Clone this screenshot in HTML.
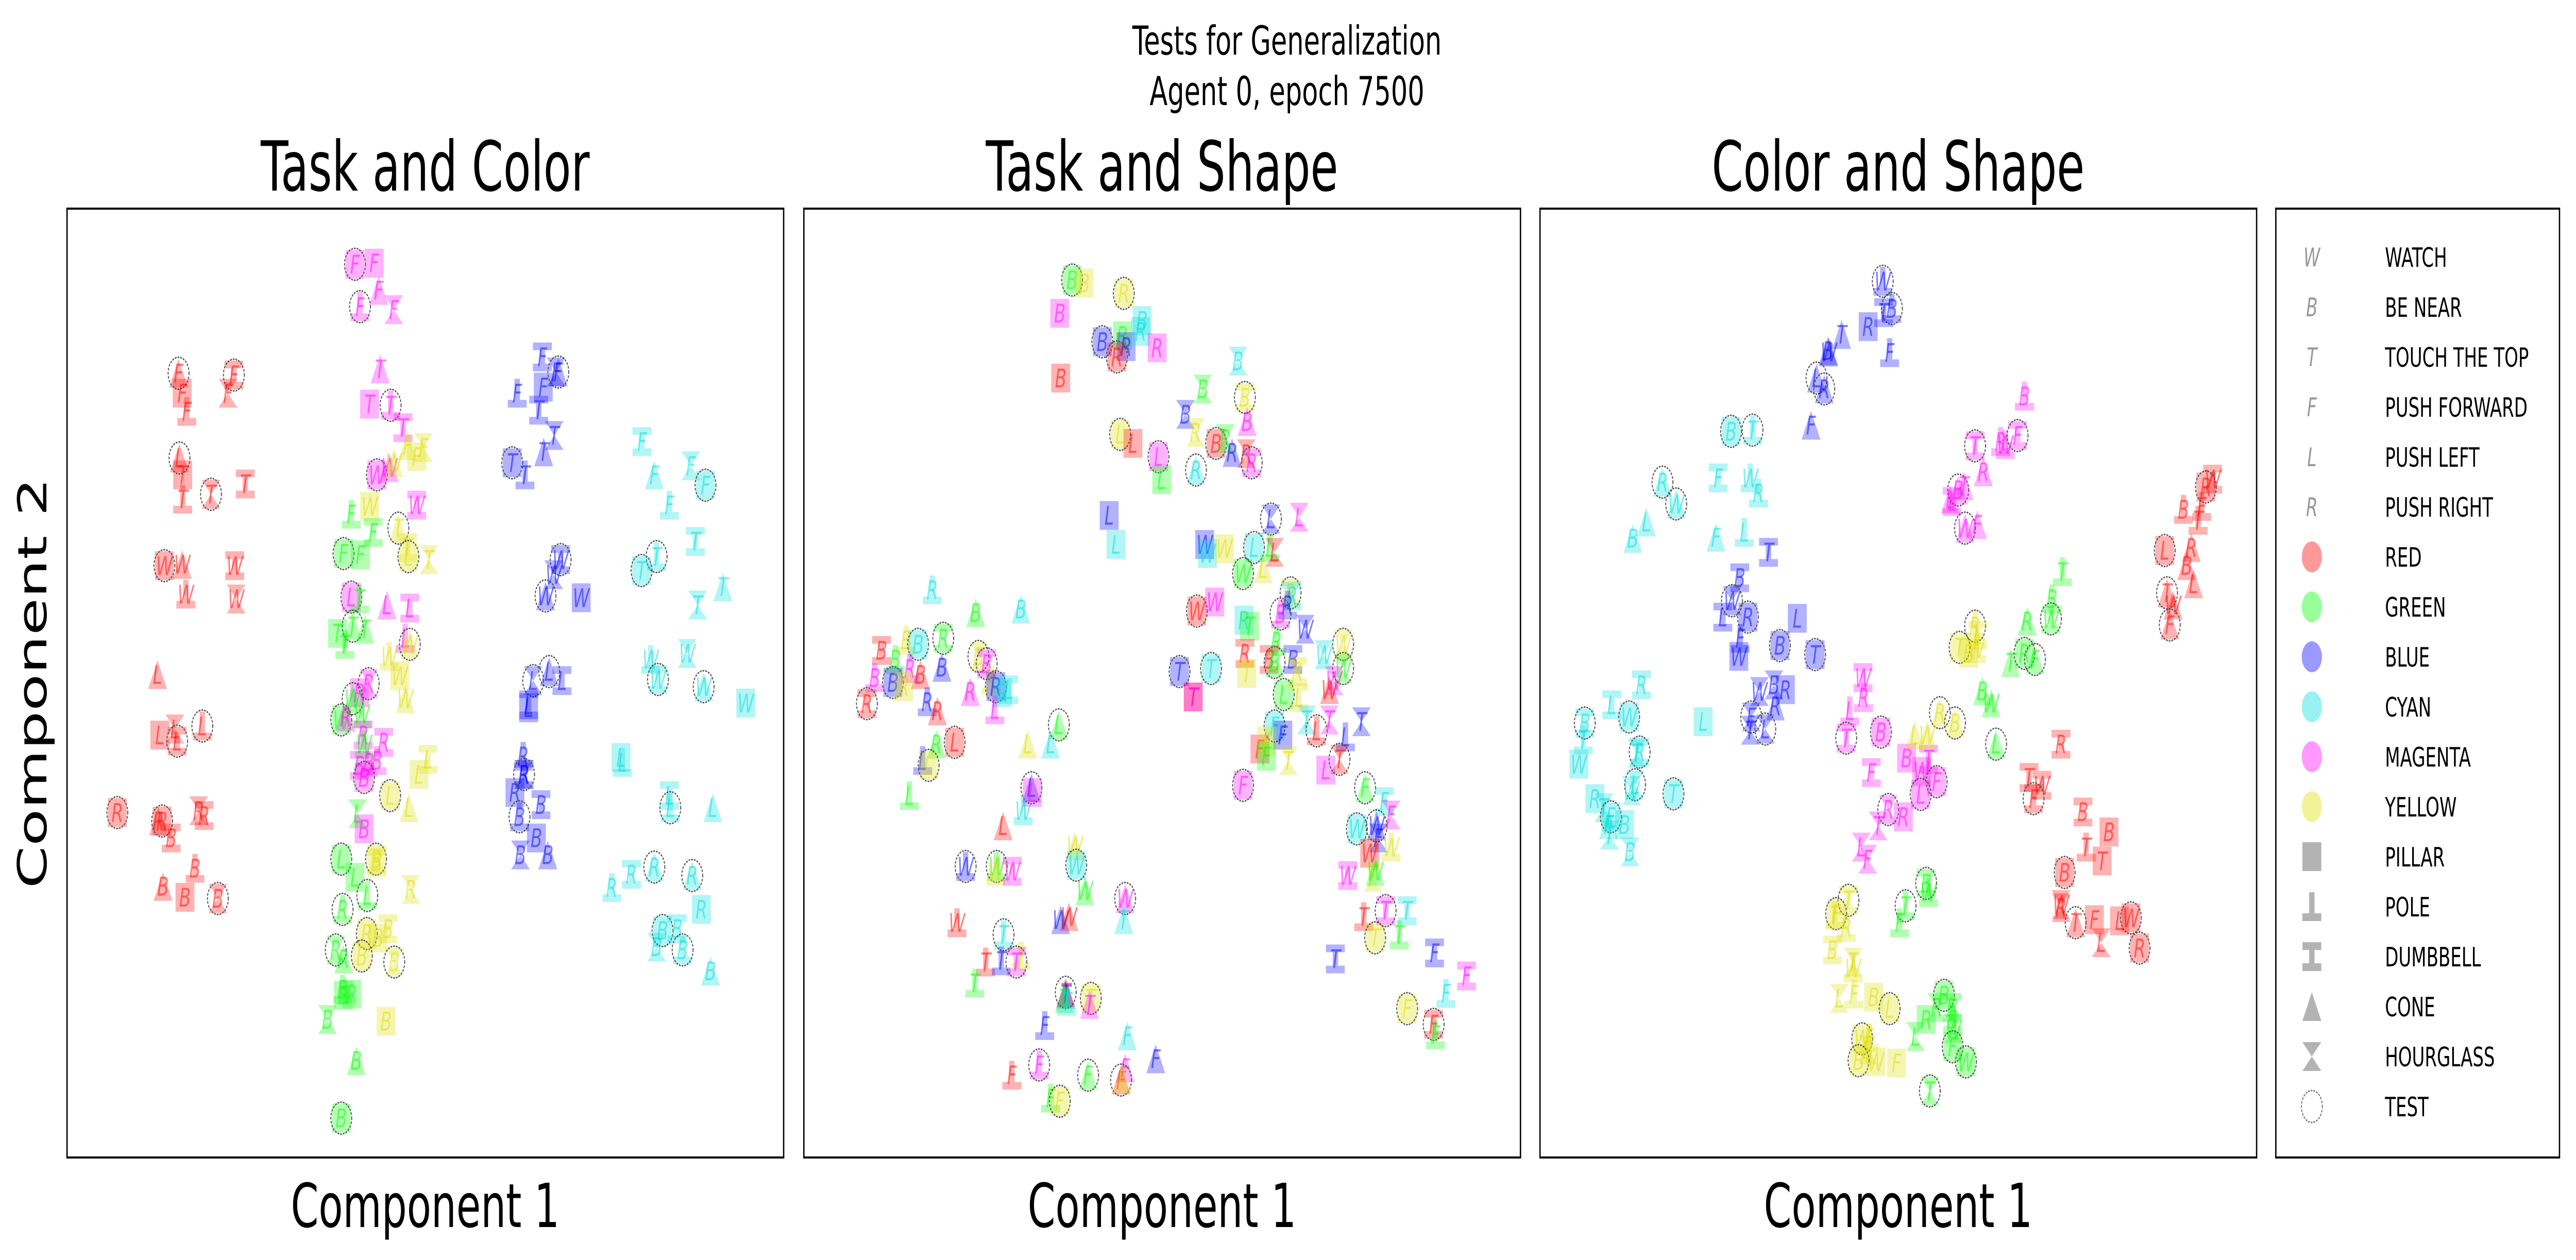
<!DOCTYPE html>
<html><head><meta charset="utf-8"><style>
html,body{margin:0;padding:0;background:#fff;width:100%;height:100%;overflow:hidden;}
svg{display:block;position:absolute;left:0;top:0;width:100vw;height:100vh;font-family:"DejaVu Sans","Liberation Sans",sans-serif;}
</style></head><body>
<svg id="fig" viewBox="0 0 7646 2446" preserveAspectRatio="none" xmlns="http://www.w3.org/2000/svg">
<rect width="7646" height="2446" fill="#fff"/>
<text x="3820" y="106" font-size="78" text-anchor="middle">Tests for Generalization</text>
<text x="3820" y="204" font-size="78" text-anchor="middle">Agent 0, epoch 7500</text>
<text x="1262" y="370" font-size="134" text-anchor="middle">Task and Color</text>
<text x="3449" y="370" font-size="134" text-anchor="middle">Task and Shape</text>
<text x="5634" y="370" font-size="134" text-anchor="middle">Color and Shape</text>
<text x="1262" y="2382" font-size="118" text-anchor="middle">Component 1</text>
<text x="3449" y="2382" font-size="118" text-anchor="middle">Component 1</text>
<text x="5634" y="2382" font-size="118" text-anchor="middle">Component 1</text>
<text transform="translate(138,1326) rotate(-90)" font-size="118" text-anchor="middle">Component 2</text>
<g id="panels"></g>
<g id="legend"></g>
</svg>
<script>
const taskColorPoints = [
[630,92,'m','s','F',1],[672,90,'m','s','F',0],[682,135,'m','n','F',0],[715,167,'m','h','F',0],[641,162,'m','p','F',1],
[685,265,'m','n','T',0],[662,323,'m','s','T',0],[708,325,'m','p','T',1],[735,362,'m','d','T',0],
[780,395,'y','h','F',0],[765,410,'y','s','F',0],[745,392,'y','n','F',0],[678,440,'m','s','W',1],[705,428,'m','n','W',0],[715,420,'y','n','W',0],
[765,490,'m','d','W',0],[662,492,'y','s','W',0],[622,505,'g','p','F',0],[670,535,'g','d','F',0],[725,528,'y','n','T',1],[745,560,'y','d','T',0],[792,580,'y','h','T',0],[747,575,'y','s','L',1],[605,570,'g','s','F',1],[642,572,'g','s','F',0],
[622,642,'m','s','L',1],[640,645,'g','p','T',0],[700,655,'m','n','L',0],[750,660,'m','d','L',0],[592,702,'g','s','T',0],[625,690,'g','n','T',1],[652,695,'g','n','T',0],[608,720,'g','p','T',0],[740,710,'m','p','L',0],[750,720,'y','n','W',1],[705,740,'y','p','W',0],[728,772,'y','s','W',0],[740,810,'y','n','W',0],
[660,785,'m','h','R',1],[640,800,'m','s','R',0],[625,810,'g','n','W',1],[600,845,'g','s','W',1],[610,840,'m','n','R',0],[645,835,'g','p','W',0],[648,870,'m','d','R',0],[650,885,'g','p','W',0],[693,882,'m','d','R',0],
[640,920,'m','d','B',0],[660,915,'m','n','B',0],[678,912,'m','p','B',0],[650,940,'m','s','B',1],[790,910,'y','d','L',0],[770,935,'y','s','L',0],[707,970,'y','s','L',1],[748,990,'y','n','L',0],[636,1000,'g','h','L',0],[650,1025,'m','s','B',0],
[600,1075,'g','s','L',1],[676,1075,'y','s','B',1],[678,1080,'y','d','B',0],[630,1105,'g','s','L',0],[657,1135,'g','p','L',1],[752,1125,'y','h','R',0],[603,1158,'g','p','R',1],[656,1198,'y','s','R',1],[702,1190,'y','d','B',0],[680,1205,'y','s','B',0],
[588,1225,'g','h','R',1],[605,1240,'g','n','R',0],[645,1235,'y','s','B',1],[716,1245,'y','h','B',1],[603,1290,'g','p','B',0],[605,1300,'g','s','B',0],[623,1298,'g','s','R',0],[570,1340,'g','h','B',0],[698,1343,'y','s','B',0],[633,1408,'g','n','B',0],[600,1503,'g','s','B',1],
[244,272,'r','n','F',1],[252,305,'r','s','F',0],[262,335,'r','p','F',0],[365,275,'r','d','F',1],[352,305,'r','h','F',0],
[246,412,'r','n','L',1],[253,440,'r','s','T',0],[253,480,'r','p','T',0],[315,472,'r','h','T',1],[390,455,'r','d','T',0],
[213,590,'r','s','W',1],[252,588,'r','n','W',0],[260,637,'r','p','W',0],[367,590,'r','d','W',0],[370,645,'r','h','W',0],
[198,770,'r','n','L',0],[203,870,'r','s','L',0],[236,860,'r','h','L',0],[241,880,'r','d','L',1],[296,855,'r','p','L',1],
[110,998,'r','s','R',1],[200,1012,'r','n','R',0],[208,1012,'r','s','R',1],[228,1040,'r','d','B',0],[288,995,'r','h','R',0],[300,1003,'r','d','R',0],[280,1090,'r','p','B',0],[210,1120,'r','n','B',0],[258,1138,'r','s','B',0],[330,1140,'r','h','B',1],
[1040,245,'b','d','F',0],[985,305,'b','p','F',0],[1042,295,'b','s','F',0],[1075,270,'b','n','F',1],[1070,270,'b','h','F',0],[1032,333,'b','d','T',0],[1066,375,'b','h','T',0],[1043,402,'b','n','T',0],[974,420,'b','s','T',1],[1002,440,'b','p','T',0],
[1080,580,'b','d','W',1],[1065,605,'b','h','W',0],[1047,640,'b','n','W',1],[1125,643,'b','s','W',0],
[1020,780,'b','h','L',1],[1055,765,'b','n','L',1],[1083,780,'b','d','L',0],[1010,825,'b','s','L',0],[1010,820,'b','d','L',0],
[998,905,'b','p','R',0],[980,965,'b','s','R',0],[1000,935,'b','h','R',0],[1000,935,'b','d','R',1],[1037,985,'b','d','B',0],[990,1005,'b','p','B',1],[1027,1040,'b','s','B',0],[992,1068,'b','h','B',0],[1052,1068,'b','n','B',0],
[1258,385,'c','d','F',0],[1285,440,'c','n','F',0],[1365,425,'c','h','F',0],[1397,457,'c','s','F',1],[1318,490,'c','p','F',0],[1375,550,'c','d','T',0],[1290,575,'c','p','T',1],[1257,598,'c','s','T',1],[1435,625,'c','n','T',0],[1380,655,'c','h','T',0],
[1277,745,'c','p','W',0],[1293,778,'c','d','W',1],[1357,735,'c','h','W',0],[1393,790,'c','n','W',1],[1485,817,'c','s','W',0],
[1212,907,'c','s','L',0],[1215,915,'c','p','L',0],[1318,970,'c','d','L',0],[1320,990,'c','p','L',1],[1413,990,'c','n','L',0],
[1192,1122,'c','p','R',0],[1235,1100,'c','d','R',0],[1285,1088,'c','n','R',1],[1368,1102,'c','n','R',1],[1388,1158,'c','s','R',0],
[1303,1193,'c','s','B',1],[1335,1190,'c','d','B',0],[1290,1220,'c','h','B',0],[1347,1225,'c','p','B',1],[1408,1260,'c','n','B',0]
];
const taskShapePoints = [
[587,118,'g','s','B',1],[613,123,'y','s','B',0],[700,140,'y','s','R',1],[560,173,'m','s','B',0],[653,220,'b','s','B',1],[697,210,'g','s','R',0],[705,228,'b','s','R',0],[685,245,'r','s','R',1],[740,185,'c','s','B',0],[737,203,'c','s','R',0],[773,230,'m','s','R',0],[562,280,'r','s','B',0],
[950,252,'c','h','B',0],[873,298,'g','h','B',0],[965,312,'y','d','B',1],[970,352,'m','n','B',0],[835,340,'b','h','B',0],[857,370,'y','h','R',0],[902,388,'r','s','B',1],[922,380,'g','h','R',0],[937,403,'b','n','R',0],[968,405,'r','h','R',0],[980,420,'m','d','R',1],[858,432,'c','n','R',1],
[692,373,'y','s','L',1],[720,388,'r','s','L',0],[776,410,'m','s','L',1],[783,448,'g','s','L',0],
[668,507,'b','s','L',0],[683,555,'c','s','L',0],[1022,513,'b','h','L',1],[1084,510,'m','h','L',0],[877,555,'b','s','W',0],[883,570,'c','s','W',0],[920,562,'y','s','W',0],[985,560,'c','s','L',1],[1020,560,'g','p','L',0],[1030,568,'r','h','L',0],[1005,595,'y','n','L',0],[961,603,'g','s','W',1],
[860,665,'r','s','W',1],[899,650,'m','s','W',0],[1065,635,'y','d','R',1],[1068,640,'c','d','R',0],[1058,655,'b','p','R',0],[1043,670,'m','p','B',1],[963,680,'c','s','R',0],[975,690,'g','s','T',0],[1097,695,'b','h','W',0],[1034,715,'g','p','R',0],[1070,745,'b','d','B',0],[1080,765,'y','d','R',0],[965,735,'r','d','R',0],[969,768,'y','s','T',0],[1018,745,'r','d','B',0],[1030,750,'g','n','B',1],[1138,737,'c','h','W',0],[1180,720,'y','h','W',1],[1180,760,'g','h','W',1],[1160,780,'m','h','W',0],[1150,795,'r','n','W',0],[822,765,'b','s','T',1],[891,760,'c','s','T',1],[852,807,'r','s','T',0],[852,807,'m','s','T',0],
[1050,803,'g','s','L',1],[1083,808,'y','d','L',0],[1100,845,'c','h','T',0],[1122,863,'r','p','L',1],[1150,845,'m','h','T',0],[1220,848,'b','h','T',0],[1185,873,'b','p','L',0],[1030,855,'c','s','F',1],[1048,870,'b','s','F',0],[998,893,'r','s','F',0],[1013,880,'y','s','F',0],[1012,905,'g','s','F',0],[1060,912,'y','h','T',0],[1142,928,'m','s','L',0],[1172,910,'r','h','T',1],[961,953,'m','s','F',1],
[1228,957,'g','n','F',1],[1270,980,'c','d','F',0],[1285,1002,'m','h','F',0],[1210,1025,'c','s','W',1],[1253,1020,'b','n','W',1],[1257,1040,'b','h','F',0],[1285,1055,'y','p','W',0],[1238,1065,'r','s','W',0],[1245,1105,'y','h','F',0],[1250,1095,'g','n','W',0],[1190,1102,'m','d','W',0],[1225,1170,'r','p','T',0],[1273,1160,'m','d','T',1],[1320,1160,'c','d','T',0],[1250,1205,'y','s','T',1],[1303,1200,'g','p','T',0],[1163,1240,'b','d','T',0],[1380,1230,'b','d','F',0],[1450,1268,'m','d','F',0],[1405,1297,'c','p','F',0],[1320,1322,'y','s','F',1],[1378,1348,'r','d','F',1],[1382,1365,'g','p','F',0],
[281,630,'c','p','R',0],[376,668,'g','n','B',0],[475,662,'c','n','B',0],[170,730,'r','d','B',0],[224,713,'y','p','B',0],[250,720,'c','s','B',1],[305,710,'g','d','R',1],[200,745,'g','p','B',0],[232,760,'m','p','R',0],[255,770,'r','n','B',0],[155,775,'m','p','B',0],[195,783,'b','s','B',1],[218,790,'y','s','R',0],[302,758,'b','n','B',0],[270,815,'b','p','R',0],[292,830,'r','n','R',0],[138,818,'r','d','R',1],[382,740,'y','h','B',1],[400,752,'m','d','B',1],[410,780,'y','p','R',0],[420,790,'b','s','R',1],[448,795,'c','d','L',0],[435,800,'c','s','R',0],[364,798,'m','n','R',0],[418,828,'m','p','L',0],
[558,853,'g','n','L',1],[490,885,'y','n','L',0],[540,885,'c','n','L',0],[290,885,'g','n','R',0],[330,882,'r','s','L',1],[260,912,'b','p','L',0],[273,920,'y','s','L',1],[231,970,'g','p','L',0],[498,957,'b','n','L',1],[500,965,'m','s','L',0],[480,995,'c','p','W',0],[436,1020,'r','n','L',0],
[354,1087,'b','p','W',1],[422,1087,'g','p','W',1],[420,1095,'y','p','W',0],[456,1095,'m','d','W',0],[593,1053,'y','n','W',0],[596,1085,'c','s','W',1],[615,1127,'g','n','W',0],[703,1140,'m','n','W',1],[700,1175,'c','n','T',0],[562,1175,'b','n','W',0],[580,1170,'r','n','W',0],[335,1180,'r','p','W',0],
[437,1200,'c','p','T',1],[475,1235,'y','p','T',0],[398,1245,'r','p','T',0],[432,1243,'b','p','T',0],[465,1245,'m','d','T',1],[374,1280,'g','p','T',0],[573,1295,'r','n','T',1],[573,1298,'b','n','T',0],[570,1305,'g','n','T',0],[575,1310,'c','p','T',0],[628,1305,'y','s','T',1],[625,1315,'m','n','T',0],
[527,1350,'b','p','F',0],[708,1367,'c','n','F',0],[770,1405,'b','n','F',0],[455,1432,'r','p','F',0],[515,1415,'m','p','F',1],[622,1432,'g','n','F',1],[703,1420,'m','n','F',0],[694,1440,'r','n','F',1],[697,1438,'y','n','F',0],[540,1470,'g','p','F',0],[560,1475,'y','s','F',1]
];
const colorShapePoints = [
[750,120,'b','p','W',1],[770,165,'b','p','B',1],[752,172,'b','d','T',0],[718,195,'b','s','R',0],[660,208,'b','n','T',0],[632,237,'b','n','W',0],[630,235,'b','n','B',0],[765,238,'b','p','F',0],[605,280,'b','n','L',1],[622,298,'b','n','R',1],[593,358,'b','n','F',0],
[500,568,'b','d','T',0],[437,610,'b','d','B',0],[420,648,'b','h','W',1],[400,675,'b','d','L',0],[455,675,'b','s','R',1],[438,710,'b','p','F',0],[435,740,'b','s','W',0],[563,677,'b','s','L',0],[525,722,'b','s','B',1],[602,737,'b','s','T',1],
[480,798,'b','h','W',0],[512,787,'b','h','B',0],[537,795,'b','s','R',0],[515,822,'b','n','R',0],[462,840,'b','h','F',1],[493,860,'b','h','L',1],[460,862,'b','h','T',0],
[418,368,'c','s','B',1],[465,366,'c','p','T',1],[268,452,'c','n','R',1],[298,488,'c','n','W',1],[390,445,'c','d','F',0],[460,445,'c','p','W',0],[478,470,'c','p','R',0],[233,518,'c','n','L',0],[203,545,'c','n','B',0],[385,543,'c','n','F',0],[447,535,'c','p','L',0],
[222,787,'c','d','R',0],[157,820,'c','d','L',0],[195,840,'c','s','W',1],[98,850,'c','d','B',1],[95,878,'c','p','T',0],[85,918,'c','s','W',0],[218,898,'c','d','R',1],[212,900,'c','h','T',0],[357,848,'c','s','L',0],[208,952,'c','h','L',1],[200,962,'c','h','W',0],[292,967,'c','s','T',1],[120,975,'c','s','R',0],[140,990,'c','h','T',0],[155,1005,'c','s','F',1],[150,1018,'c','n','F',0],[185,1018,'c','s','B',0],[152,1035,'c','h','T',0],[197,1063,'c','h','B',0],
[1060,310,'m','p','B',0],[952,392,'m','d','T',1],[1008,385,'m','p','R',0],[1018,390,'m','p','W',0],[1045,375,'m','d','F',1],[970,435,'m','n','R',0],[915,465,'m','n','B',1],[928,458,'m','n','T',0],[898,480,'m','n','L',0],[902,484,'m','d','L',0],[930,528,'m','n','W',1],[957,522,'m','n','F',0],
[707,775,'m','d','W',0],[708,808,'m','p','R',0],[678,830,'m','p','L',0],[670,875,'m','d','T',1],[746,865,'m','s','B',1],[802,908,'m','s','B',0],[850,910,'m','d','T',0],[835,930,'m','s','W',0],[868,947,'m','s','F',1],[833,968,'m','s','L',1],[725,932,'m','d','F',0],[762,993,'m','h','R',1],[795,1005,'m','s','R',0],[740,1020,'m','h','T',0],[703,1055,'m','h','L',0],[717,1075,'m','h','F',0],
[952,690,'y','p','R',1],[958,705,'y','d','L',0],[918,725,'y','s','T',1],[938,735,'y','s','B',0],[955,727,'y','p','W',0],[875,833,'y','n','R',1],[908,850,'y','n','B',1],[820,870,'y','n','L',0],[847,870,'y','n','W',0],
[675,1143,'y','d','T',1],[648,1165,'y','s','F',1],[645,1168,'y','p','T',0],[670,1188,'y','p','R',0],[640,1225,'y','d','B',0],[685,1245,'y','h','T',0],[685,1255,'y','p','W',0],[655,1305,'y','h','L',0],[687,1298,'y','p','F',0],[730,1303,'y','s','B',0],[765,1322,'y','s','L',1],[705,1372,'y','s','W',1],[720,1370,'y','p','F',0],[717,1390,'y','h','B',0],[697,1408,'y','s','B',1],[735,1410,'y','s','W',0],[780,1412,'y','s','F',0],
[1143,600,'g','p','T',0],[1120,645,'g','p','B',0],[1066,682,'g','n','R',0],[1118,678,'g','p','W',1],[1030,750,'g','n','T',0],[1060,735,'g','s','R',1],[1083,745,'g','n','F',1],[968,797,'g','n','B',0],[987,817,'g','n','W',0],[998,885,'g','n','L',1],
[845,1115,'g','d','B',1],[850,1130,'g','p','W',0],[800,1152,'g','p','T',1],[787,1180,'g','p','F',0],[845,1340,'g','s','R',0],[868,1320,'g','h','R',0],[884,1300,'g','s','B',1],[902,1320,'g','d','B',0],[903,1340,'g','p','B',0],[822,1368,'g','h','L',0],[905,1355,'g','h','W',0],[903,1385,'g','s','F',1],[932,1410,'g','s','W',1],[853,1458,'g','h','T',1],
[1472,447,'r','d','W',0],[1457,460,'r','s','R',1],[1448,492,'r','p','F',0],[1408,497,'r','p','B',0],[1440,515,'r','p','T',0],[1367,565,'r','s','L',1],[1425,560,'r','n','R',0],[1415,590,'r','n','B',0],[1430,620,'r','n','L',0],[1372,635,'r','n','T',1],[1385,655,'r','n','W',0],[1378,688,'r','n','F',1],
[1140,885,'r','d','R',0],[1070,940,'r','d','T',0],[1098,953,'r','d','W',0],[1080,975,'r','d','F',1],[1188,997,'r','d','B',0],[1245,1030,'r','s','B',0],[1195,1055,'r','p','T',0],[1230,1078,'r','s','T',0],[1148,1097,'r','s','B',1],
[1140,1155,'r','h','R',0],[1140,1150,'r','h','W',0],[1172,1180,'r','n','T',1],[1213,1175,'r','s','F',0],[1268,1177,'r','s','L',0],[1293,1172,'r','s','W',1],[1228,1213,'r','h','L',0],[1312,1222,'r','s','R',1]
];
const panelNames = ['task-and-color','task-and-shape','color-and-shape'];
const legendTasks = ['W','B','T','F','L','R'];
const legendTaskLabels = ['WATCH','BE NEAR','TOUCH THE TOP','PUSH FORWARD','PUSH LEFT','PUSH RIGHT'];
const legendColors = ['r','g','b','c','m','y'];
const legendColorLabels = ['RED','GREEN','BLUE','CYAN','MAGENTA','YELLOW'];
const legendShapes = ['s','p','d','n','h'];
const legendShapeLabels = ['PILLAR','POLE','DUMBBELL','CONE','HOURGLASS'];

const NS='http://www.w3.org/2000/svg';
const COL={r:'#ff0000',g:'#00ff00',b:'#0000ff',c:'#00dede',m:'#ff00ff',y:'#dede00'};
const CNAME={r:'red',g:'green',b:'blue',c:'cyan',m:'magenta',y:'yellow'};
const SNAME={s:'pillar',p:'pole',d:'dumbbell',n:'cone',h:'hourglass'};
const PANEL_LEFT=[199,2386,4571], PANEL_TOP=405, PANEL_W=2127, PANEL_H=1842, DOMAIN=1568;
function xScale(p,v){return PANEL_LEFT[p]+v*PANEL_W/DOMAIN;}
function yScale(v){return PANEL_TOP+v*PANEL_H/DOMAIN;}
function mk(tag,attrs,parent){const e=document.createElementNS(NS,tag);for(const k in attrs)e.setAttribute(k,attrs[k]);if(parent)parent.appendChild(e);return e;}
function shapePath(s,cx,cy,h){
  const a=h, t=15/56*2*h, st=8/28*h;
  if(s==='s')return `M${cx-a},${cy-a}h${2*a}v${2*a}h${-2*a}z`;
  if(s==='n')return `M${cx-a},${cy+a}L${cx},${cy-a}L${cx+a},${cy+a}z`;
  if(s==='h')return `M${cx-a},${cy-a}h${2*a}L${cx},${cy}z M${cx-a},${cy+a}h${2*a}L${cx},${cy}z`;
  if(s==='p')return `M${cx-st},${cy-a}h${2*st}v${2*a-t}h${-2*st}z M${cx-a},${cy+a-t}h${2*a}v${t}h${-2*a}z`;
  if(s==='d')return `M${cx-a},${cy-a}h${2*a}v${t}h${-2*a}z M${cx-st},${cy-a+t}h${2*st}v${2*a-2*t}h${-2*st}z M${cx-a},${cy+a-t}h${2*a}v${t}h${-2*a}z`;
}
const panels=document.getElementById('panels');
[taskColorPoints,taskShapePoints,colorShapePoints].forEach((pts,p)=>{
  const g=mk('g',{},panels);
  
  
  const frame=mk('rect',{x:PANEL_LEFT[p],y:PANEL_TOP,width:PANEL_W,height:PANEL_H,fill:'none',stroke:'#000','stroke-width':4},g);
  
  
  pts.forEach(d=>{
    const cx=xScale(p,d[0]), cy=yScale(d[1]);
    const m=mk('g',{},g);
    
    
    mk('path',{d:shapePath(d[3],cx,cy,28),fill:COL[d[2]],'fill-opacity':0.3},m);
    mk('text',{x:cx,y:cy+18,'font-size':50,'font-style':'italic','text-anchor':'middle',fill:COL[d[2]],'fill-opacity':0.5},m).textContent=d[4];
    if(d[5])mk('circle',{cx:cx,cy:cy,r:31,fill:'none',stroke:'#555','stroke-width':3,'stroke-dasharray':'2.5 5.5','stroke-linecap':'round'},m);
  });
});
const lg=document.getElementById('legend');
const lf=mk('rect',{x:6755,y:405,width:842,height:1842,fill:'#fff',stroke:'#000','stroke-width':4},lg);


let row=0;
const LX=6862, TX=7079, LY0=499, LDY=97;
function entry(label,draw){
  const y=LY0+row*LDY; const e=mk('g',{},lg);
  
  
  draw(e,y);
  mk('text',{x:TX,y:y+19,'font-size':52},e).textContent=label;
  row++;
}
legendTasks.forEach((t,i)=>entry(legendTaskLabels[i],(e,y)=>{mk('text',{x:LX,y:y+18,'font-size':50,'font-style':'italic','text-anchor':'middle',fill:'#999'},e).textContent=t;}));
legendColors.forEach((c,i)=>entry(legendColorLabels[i],(e,y)=>{mk('circle',{cx:LX,cy:y,r:30,fill:COL[c],'fill-opacity':0.4},e);}));
legendShapes.forEach((s,i)=>entry(legendShapeLabels[i],(e,y)=>{mk('path',{d:shapePath(s,LX,y,28),fill:'#b3b3b3'},e);}));
entry('TEST',(e,y)=>{mk('circle',{cx:LX,cy:y,r:31,fill:'none',stroke:'#777','stroke-width':3,'stroke-dasharray':'2.5 5.5','stroke-linecap':'round'},e);});
</script>
</body></html>
